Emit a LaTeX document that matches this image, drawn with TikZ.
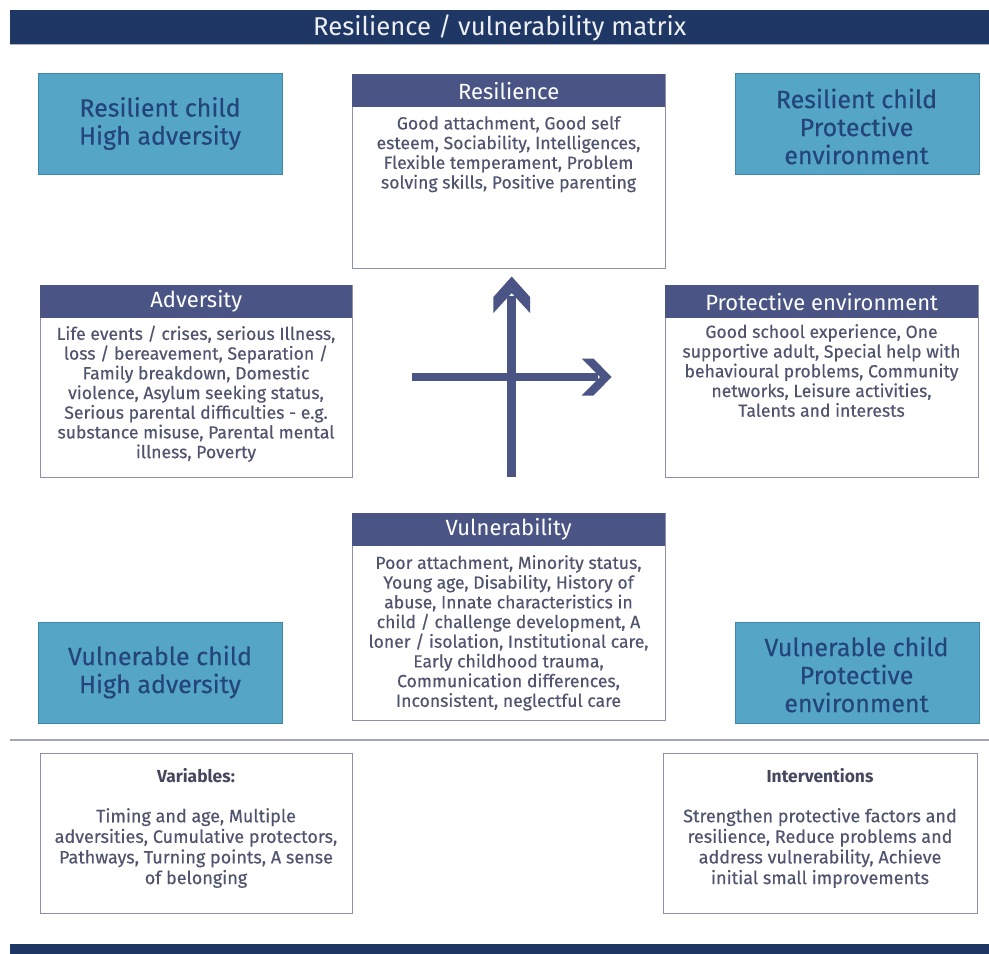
\documentclass[tikz,border=0pt]{standalone}
\usepackage{fontspec}
\setmainfont{Fira Sans}
\newfontfamily\bodyfont[FakeBold=0.35]{Fira Sans}
\definecolor{titlenavy}{HTML}{1E3764}
\definecolor{hdrblue}{HTML}{4A5585}
\definecolor{bodytext}{HTML}{50546F}
\definecolor{tealfill}{HTML}{55A6C6}
\definecolor{tealedge}{HTML}{3F88AA}
\definecolor{tealtext}{HTML}{24457A}
\definecolor{boxedge}{HTML}{8C90A8}
\begin{document}
\begin{tikzpicture}[x=1pt,y=-1pt,
  framebox/.style={draw=boxedge, line width=1.4pt, fill=white, inner sep=0pt, anchor=north west},
  hdrbox/.style={fill=hdrblue, text=white, inner sep=0pt, anchor=north west, minimum height=33pt,
     font=\fontsize{22}{24}\selectfont},
  bodytxt/.style={text=bodytext, align=center, inner sep=0pt, anchor=north,
     font=\bodyfont\fontsize{17.6}{19.7}\selectfont},
  cornerbox/.style={fill=tealfill, draw=tealedge, line width=1pt, inner sep=0pt, anchor=north west,
     minimum width=244pt, minimum height=101pt},
  cornertxt/.style={text=tealtext, align=center, inner sep=0pt,
     font=\bodyfont\fontsize{25}{28}\selectfont},
  axis/.style={draw=hdrblue, line width=9.5pt},
  axishead/.style={fill=hdrblue},
]
\useasboundingbox (0,0) rectangle (989,954);
\fill[white] (0,0) rectangle (989,954);

% title bar
\node[fill=titlenavy, inner sep=0pt, anchor=north west, minimum width=979pt, minimum height=34pt] (titlebar) at (10,10) {};
\draw[color=boxedge!70, line width=1.2pt] (titlebar.south west) -- (titlebar.south east);
\node[text=white!92!titlenavy, font=\fontsize{25.7}{27}\selectfont] (title) at ([yshift=-1pt]titlebar.center) {Resilience / vulnerability matrix};

% corner boxes
\node[cornerbox] (tl) at (38,73) {};
\node[cornertxt] (tlt) at (160,123.5) {Resilient child\\High adversity};
\node[cornerbox] (tr) at (735,73) {};
\node[cornertxt] (trt) at (856.5,126.5) {Resilient child\\Protective\\environment};
\node[cornerbox] (bl) at (38,622) {};
\node[cornertxt] (blt) at (160,672) {Vulnerable child\\High adversity};
\node[cornerbox] (br) at (735,622) {};
\node[cornertxt] (brt) at (856.5,674.5) {Vulnerable child\\Protective\\environment};

% Resilience
\node[framebox, minimum width=313pt, minimum height=194pt] (res) at (352,74) {};
\node[hdrbox, minimum width=313pt] (resh) at (352,74) {Resilience};
\node[bodytxt] (rest) at (508.5,116) {Good attachment, Good self\\esteem, Sociability, Intelligences,\\Flexible temperament, Problem\\solving skills, Positive parenting};

% Adversity
\node[framebox, minimum width=312pt, minimum height=192pt] (adv) at (40,285) {};
\node[hdrbox, minimum width=312pt] (advh) at (40,285) {Adversity};
\node[bodytxt] (advt) at (196,325.5) {Life events / crises, serious Illness,\\loss / bereavement, Separation /\\Family breakdown, Domestic\\violence, Asylum seeking status,\\Serious parental difficulties - e.g.\\substance misuse, Parental mental\\illness, Poverty};

% Protective environment
\node[framebox, minimum width=313pt, minimum height=192pt] (pro) at (665,285) {};
\node[hdrbox, minimum width=313pt] (proh) at (665,285) {Protective environment};
\node[bodytxt] (prot) at (821.5,324) {Good school experience, One\\supportive adult, Special help with\\behavioural problems, Community\\networks, Leisure activities,\\Talents and interests};

% Vulnerability
\node[framebox, minimum width=313pt, minimum height=207pt] (vul) at (352,513) {};
\node[hdrbox, minimum width=313pt] (vulh) at (352,513) {Vulnerability};
\node[bodytxt] (vult) at (508.5,555) {Poor attachment, Minority status,\\Young age, Disability, History of\\abuse, Innate characteristics in\\child / challenge development, A\\loner / isolation, Institutional care,\\Early childhood trauma,\\Communication differences,\\Inconsistent, neglectful care};

% axes
\coordinate (vbot) at (511.7,477);
\coordinate (vtop) at (511.7,296);
\coordinate (hleft) at (411.5,377);
\coordinate (hright) at (598,377);
\draw[axis] (vbot) -- (vtop);
\draw[axis, line width=8.5pt] (hleft) -- (hright);
\fill[axishead] (511.7,276.5) -- (530,297) -- (530,313) -- (511.7,293) -- (493.4,313) -- (493.4,297) -- cycle;
\fill[axishead] (611.7,377) -- (593.3,358.5) -- (581.7,358.5) -- (600,377) -- (581.7,395.5) -- (593.3,395.5) -- cycle;

% separator
\coordinate (sepl) at (10,740);
\coordinate (sepr) at (989,740);
\draw[color=boxedge!80, line width=1.6pt] (sepl) -- (sepr);

% bottom boxes
\node[framebox, minimum width=312pt, minimum height=160pt] (var) at (40,753) {};
\node[bodytxt, font=\bfseries\fontsize{17.4}{19}\selectfont, text=bodytext!85!black] (varh) at (196,768.5) {Variables:};
\node[bodytxt, font=\bodyfont\fontsize{18}{20.6}\selectfont] (vart) at (196,808) {Timing and age, Multiple\\adversities, Cumulative protectors,\\Pathways, Turning points, A sense\\of belonging};

\node[framebox, minimum width=314pt, minimum height=160pt] (int) at (663,753) {};
\node[bodytxt, font=\bfseries\fontsize{17.4}{19}\selectfont, text=bodytext!85!black] (inth) at (820,768.5) {Interventions};
\node[bodytxt, font=\bodyfont\fontsize{18}{20.6}\selectfont] (intt) at (820,808) {Strengthen protective factors and\\resilience, Reduce problems and\\address vulnerability, Achieve\\initial small improvements};

% bottom bar
\node[fill=titlenavy, inner sep=0pt, anchor=north west, minimum width=979pt, minimum height=10pt] (botbar) at (10,944) {};
\end{tikzpicture}
\end{document}
